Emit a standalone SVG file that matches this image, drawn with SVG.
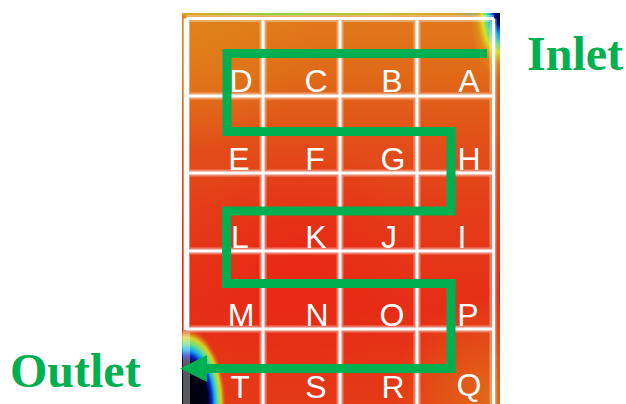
<svg xmlns="http://www.w3.org/2000/svg" width="626" height="404" viewBox="0 0 626 404">
<style>
.cell{font-family:"Liberation Sans",Arial,sans-serif;font-size:32px;fill:#ffffff;text-anchor:middle}
.lbl{font-family:"Liberation Serif","Times New Roman",serif;font-weight:bold;font-size:48px;fill:#00B050}
.gl{stroke:#ffffff;stroke-width:3;fill:none}
.gh{stroke:#ffffff;stroke-opacity:0.35;stroke-width:7;fill:none}
.flow{stroke:#00B050;stroke-width:9;fill:none;stroke-linejoin:miter;stroke-linecap:butt}
</style>
<defs>
<linearGradient id="base" x1="0" y1="13" x2="0" y2="404" gradientUnits="userSpaceOnUse">
<stop offset="0" stop-color="#E07A1A"/>
<stop offset="0.15" stop-color="#E06A18"/>
<stop offset="0.32" stop-color="#E2501A"/>
<stop offset="0.5" stop-color="#E43E18"/>
<stop offset="0.75" stop-color="#E62E16"/>
<stop offset="1" stop-color="#E43A16"/>
</linearGradient>
<radialGradient id="tl" cx="190" cy="20" r="130" gradientUnits="userSpaceOnUse">
<stop offset="0" stop-color="#E0841A" stop-opacity="0.85"/>
<stop offset="1" stop-color="#E0841A" stop-opacity="0"/>
</radialGradient>
<radialGradient id="br" cx="500" cy="404" r="110" gradientUnits="userSpaceOnUse">
<stop offset="0" stop-color="#E07A1A" stop-opacity="0.8"/>
<stop offset="1" stop-color="#E07A1A" stop-opacity="0"/>
</radialGradient>
<radialGradient id="ml" cx="300" cy="260" r="120" gradientUnits="userSpaceOnUse">
<stop offset="0" stop-color="#EA2014" stop-opacity="0.6"/>
<stop offset="1" stop-color="#EA2014" stop-opacity="0"/>
</radialGradient>
<radialGradient id="coldTR" cx="500" cy="13" r="30" gradientUnits="userSpaceOnUse" gradientTransform="translate(500,13) scale(1,2.2) translate(-500,-13)">
<stop offset="0" stop-color="#000010"/>
<stop offset="0.18" stop-color="#001090"/>
<stop offset="0.32" stop-color="#10A0F0"/>
<stop offset="0.46" stop-color="#60E090"/>
<stop offset="0.6" stop-color="#D8E020"/>
<stop offset="0.78" stop-color="#E09A1C" stop-opacity="0.6"/>
<stop offset="1" stop-color="#E09A1C" stop-opacity="0"/>
</radialGradient>
<radialGradient id="coldBL" cx="186" cy="404" r="40" gradientUnits="userSpaceOnUse" gradientTransform="translate(186,404) scale(1,1.9) translate(-186,-404)">
<stop offset="0" stop-color="#000008"/>
<stop offset="0.55" stop-color="#000018"/>
<stop offset="0.64" stop-color="#0820C0"/>
<stop offset="0.72" stop-color="#10B0F0"/>
<stop offset="0.8" stop-color="#70E080"/>
<stop offset="0.88" stop-color="#E0D020"/>
<stop offset="0.95" stop-color="#E07818" stop-opacity="0.6"/>
<stop offset="1" stop-color="#E05018" stop-opacity="0"/>
</radialGradient>
<linearGradient id="topEdge" x1="182" y1="0" x2="500" y2="0" gradientUnits="userSpaceOnUse">
<stop offset="0" stop-color="#E0A020"/>
<stop offset="0.3" stop-color="#90D040"/>
<stop offset="0.6" stop-color="#C0C030"/>
<stop offset="0.85" stop-color="#E0A020"/>
<stop offset="1" stop-color="#40C0E0"/>
</linearGradient>
</defs>

<g id="heatmap">
<rect x="182" y="13" width="318" height="391" fill="url(#base)"/>
<rect x="182" y="13" width="318" height="391" fill="url(#tl)"/>
<rect x="182" y="13" width="318" height="391" fill="url(#br)"/>
<rect x="182" y="13" width="318" height="391" fill="url(#ml)"/>
<rect x="182" y="13" width="318" height="2.5" fill="url(#topEdge)"/>
<rect x="182" y="13" width="318" height="391" fill="url(#coldTR)"/>
<rect x="182" y="13" width="318" height="391" fill="url(#coldBL)"/>
</g>

<g id="grid">
<path class="gh" d="M186.5,18.5V404M263,18.5V404M340,18.5V404M417,18.5V404M493,18.5V404M186.5,18.5H494M186.5,96H494M186.5,173H494M186.5,251H494M186.5,329H494"/>
<path class="gl" d="M263,18.5V404M340,18.5V404M417,18.5V404M493.5,18.5V404M186.5,18.5H494M186.5,96H494M186.5,173H494M186.5,251H494M186.5,329H494"/>
<path d="M186.5,18.5V330" stroke="#ffffff" stroke-width="5" fill="none"/>
</g>

<g id="cell-D"><text class="cell" x="241" y="92">D</text></g>
<g id="cell-C"><text class="cell" x="316" y="92">C</text></g>
<g id="cell-B"><text class="cell" x="392" y="92">B</text></g>
<g id="cell-A"><text class="cell" x="469" y="92">A</text></g>
<g id="cell-E"><text class="cell" x="239" y="170">E</text></g>
<g id="cell-F"><text class="cell" x="315" y="170">F</text></g>
<g id="cell-G"><text class="cell" x="393" y="170">G</text></g>
<g id="cell-H"><text class="cell" x="469" y="170">H</text></g>
<g id="cell-L"><text class="cell" x="240" y="248">L</text></g>
<g id="cell-K"><text class="cell" x="316" y="248">K</text></g>
<g id="cell-J"><text class="cell" x="389" y="248">J</text></g>
<g id="cell-I"><text class="cell" x="462" y="248">I</text></g>
<g id="cell-M"><text class="cell" x="241" y="326">M</text></g>
<g id="cell-N"><text class="cell" x="317" y="326">N</text></g>
<g id="cell-O"><text class="cell" x="392" y="326">O</text></g>
<g id="cell-P"><text class="cell" x="468" y="326">P</text></g>
<g id="cell-T"><text class="cell" x="240" y="398">T</text></g>
<g id="cell-S"><text class="cell" x="316" y="398">S</text></g>
<g id="cell-R"><text class="cell" x="393" y="398">R</text></g>
<g id="cell-Q"><text class="cell" x="469" y="396">Q</text></g>

<g id="connectors">
<path class="flow" d="M487,53.5H227V131.5H451V211H226.5V283.5H451V368.5H204"/>
<polygon points="180,368.5 207,355 207,382" fill="#00B050"/>
</g>

<g id="inlet"><text class="lbl" x="527" y="70">Inlet</text></g>
<g id="outlet"><text class="lbl" x="10" y="387">Outlet</text></g>
</svg>
